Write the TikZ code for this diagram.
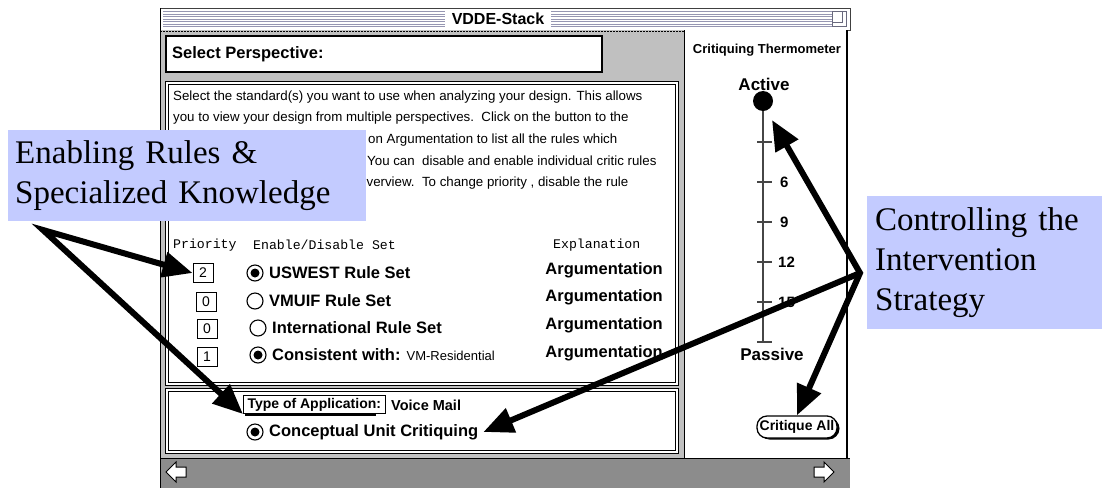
\documentclass[tikz,border=0pt]{standalone}
\usepackage{fontspec}
\setmainfont{Liberation Serif}
\newfontfamily\uisans{Liberation Sans}
\newfontfamily\uimono{Liberation Mono}
\usetikzlibrary{arrows.meta}
\definecolor{calloutblue}{RGB}{195,203,255}
\definecolor{panegray}{RGB}{192,192,192}
\definecolor{bargray}{RGB}{140,140,140}
\definecolor{stripe}{RGB}{150,150,178}
\definecolor{thermogray}{RGB}{70,70,70}
\begin{document}
\begin{tikzpicture}[x=1pt,y=-1pt,
  >={Triangle[length=30pt,width=25pt]},
  chicago/.style={font=\uisans\bfseries\fontsize{16.5}{18}\selectfont, inner sep=0pt},
  geneva/.style={font=\uisans\fontsize{13.3}{15}\selectfont, inner sep=0pt, anchor=base west},
  monaco/.style={font=\uimono\fontsize{13.2}{15}\selectfont, inner sep=0pt, anchor=west},
  prio/.style={draw, line width=0.9pt, fill=white, minimum width=20pt, minimum height=19pt,
               inner sep=0pt, font=\uisans\fontsize{14}{16}\selectfont},
  radio/.style={circle, draw, line width=1.1pt, fill=white, minimum size=16pt, inner sep=0pt},
  panel/.style={draw=black, double=white, line width=0.8pt, double distance=2pt, fill=white},
  thermo/.style={draw=thermogray, line width=1.6pt},
  thermnum/.style={font=\uisans\bfseries\fontsize{15}{17}\selectfont, inner sep=0pt, anchor=west},
  pointer/.style={line width=6pt, line join=miter},
  callout/.style={fill=calloutblue, inner sep=0pt, align=left, font=\fontsize{33}{40}\selectfont},
  navarrow/.style={draw=black, line width=1pt, fill=white, line join=miter},
]
\useasboundingbox (0,0) rectangle (1102,488);

% ---------- window: title bar ----------
\fill[white] (160,8) rectangle (850,30);
\foreach \i in {0,...,6}
  \draw[stripe, line width=0.9pt] (163,11.5+2.5*\i) -- (847,11.5+2.5*\i);
\draw[black!75, line width=0.8pt] (160,8) rectangle (850,30);
\node[fill=white, inner xsep=7pt, inner ysep=3pt,
      font=\uisans\bfseries\fontsize{16}{18}\selectfont] (title) at (498,19) {VDDE-Stack};
\draw[stripe!70!black, fill=white, line width=0.8pt] (832,11) rectangle (846,26);
\draw[stripe!70!black, line width=0.8pt] (832,22) -- (842,22) -- (842,11);

% ---------- left pane ----------
\fill[panegray] (160,30) rectangle (684,458);
\draw[dashed, dash pattern=on 2pt off 1pt, line width=1pt] (160,31) -- (684,31);
\draw[line width=1.4pt, fill=white] (166,36) rectangle (602,72);
\node[chicago, anchor=west] (select) at (172,54) {Select Perspective:};

\draw[panel] (167,83) rectangle (677,384);
\node[geneva] (d1) at (173,100) {Select the standard(s) you want to use when analyzing your design. This allows};
\node[geneva] (d2) at (173,121) {you to view your design from multiple perspectives.\ \ Click on the button to the};
\node[geneva] (d3) at (368,143) {on Argumentation to list all the rules which};
\node[geneva] (d4) at (367,165) {You can\ \ disable and enable individual critic rules};
\node[geneva] (d5) at (359,186) {overview.\ \ To change priority , disable the rule};

\node[monaco] (hprio) at (173,245) {Priority};
\node[monaco] (hset) at (253,245) {Enable/Disable Set};
\node[monaco] (hexp) at (553,245) {Explanation};

\node[prio] (p2) at (203,273) {2};
\node[prio] (p0a) at (206,302) {0};
\node[prio] (p0b) at (207,329) {0};
\node[prio] (p1) at (207,357) {1};

\node[radio] (r1) at (255,273) {};
\node[radio] (r2) at (255,301) {};
\node[radio] (r3) at (258,328) {};
\node[radio] (r4) at (258,355) {};
\fill (r1.center) circle (4.5);
\fill (r4.center) circle (4.5);

\node[chicago, anchor=west] (s1) at (269,273) {USWEST Rule Set};
\node[chicago, anchor=west] (s2) at (269,301) {VMUIF Rule Set};
\node[chicago, anchor=west] (s3) at (272,328) {International Rule Set};
\node[chicago, anchor=west] (s4) at (272,355) {Consistent with: {\mdseries\fontsize{13}{15}\selectfont VM-Residential}};

\foreach \y/\n in {270/a1,297/a2,325/a3,353/a4}
  \node[chicago, anchor=east] (\n) at (663,\y) {Argumentation};

\draw[panel] (167,390) rectangle (677,452);
\fill (245,397) rectangle (376,416);
\node[draw, line width=1pt, fill=white, inner xsep=4pt, inner ysep=2.5pt,
      font=\uisans\bfseries\fontsize{14}{16}\selectfont,
      anchor=north west] (toa) at (243,395) {Type of Application:};
\node[font=\uisans\bfseries\fontsize{14.5}{16}\selectfont, inner sep=0pt, anchor=west] (vm) at (391,405) {Voice Mail};
\node[radio] (rc) at (255,432) {};
\fill (rc.center) circle (4.5);
\node[chicago, anchor=west] (cuc) at (269,432) {Conceptual Unit Critiquing};

% ---------- right pane: thermometer ----------
\fill[white] (684,30) rectangle (848,458);
\draw[line width=0.8pt] (684,30) -- (684,458);
\draw[line width=2pt] (847,30) -- (847,458);
\node[font=\uisans\bfseries\fontsize{13}{15}\selectfont, inner sep=0pt] (thermtitle) at (767,50) {Critiquing Thermometer};
\node[font=\uisans\bfseries\fontsize{17}{19}\selectfont, inner sep=0pt] (active) at (764,84) {Active};
\draw[thermo] (763,101) -- (763,342);
\foreach \y in {142,182,...,342}
  \draw[thermo] (757,\y) -- (772,\y);
\node[circle, fill, minimum size=20pt, inner sep=0pt] (dot) at (763,101) {};
\node[thermnum] (t6) at (780,182) {6};
\node[thermnum] (t9) at (780,222) {9};
\node[thermnum] (t12) at (778,262) {12};
\node[thermnum] (t15) at (778,302) {15};
\node[font=\uisans\bfseries\fontsize{17}{19}\selectfont, inner sep=0pt] (passive) at (772,354) {Passive};
\coordinate (activetip) at (772,120);

\fill[rounded corners=11pt] (758.5,417.5) rectangle (839.5,439.5);
\node[draw, line width=1.3pt, rounded corners=10pt, fill=white, minimum width=80pt,
      minimum height=22pt, inner sep=0pt, font=\uisans\bfseries\fontsize{14}{16}\selectfont]
      (critique) at (797,427) {Critique All};

% ---------- bottom navigation bar ----------
\fill[bargray] (160,458) rectangle (850,488);
\draw[line width=1pt] (160,458) -- (850,458);
\draw[line width=0.8pt] (160,8) -- (160,488);
\draw[navarrow] (166,472) -- (176,462) -- (176,467) -- (186,467) -- (186,477)
                -- (176,477) -- (176,482) -- cycle;
\draw[navarrow] (834,472) -- (824,462) -- (824,467) -- (814,467) -- (814,477)
                -- (824,477) -- (824,482) -- cycle;

% ---------- pointers ----------
\coordinate (lv) at (43,230);
\coordinate (rv) at (860,273);
\draw[pointer, <->] (p2.west) -- (lv) -- (toa.south west);
\draw[pointer, <->] (activetip) -- (rv) -- (critique.north);
\draw[pointer, ->] (rv) -- ([xshift=5pt]cuc.east);

% ---------- callouts ----------
\node[callout, anchor=north west, minimum width=358pt, minimum height=91pt, text width=344pt]
  (knowledge) at (8,130) {Enabling Rules \&\\Specialized Knowledge};
\node[callout, anchor=north west, minimum width=235pt, minimum height=133pt, text width=219pt]
  (strategy) at (867,196) {Controlling the\\Intervention\\Strategy};
\end{tikzpicture}
\end{document}
